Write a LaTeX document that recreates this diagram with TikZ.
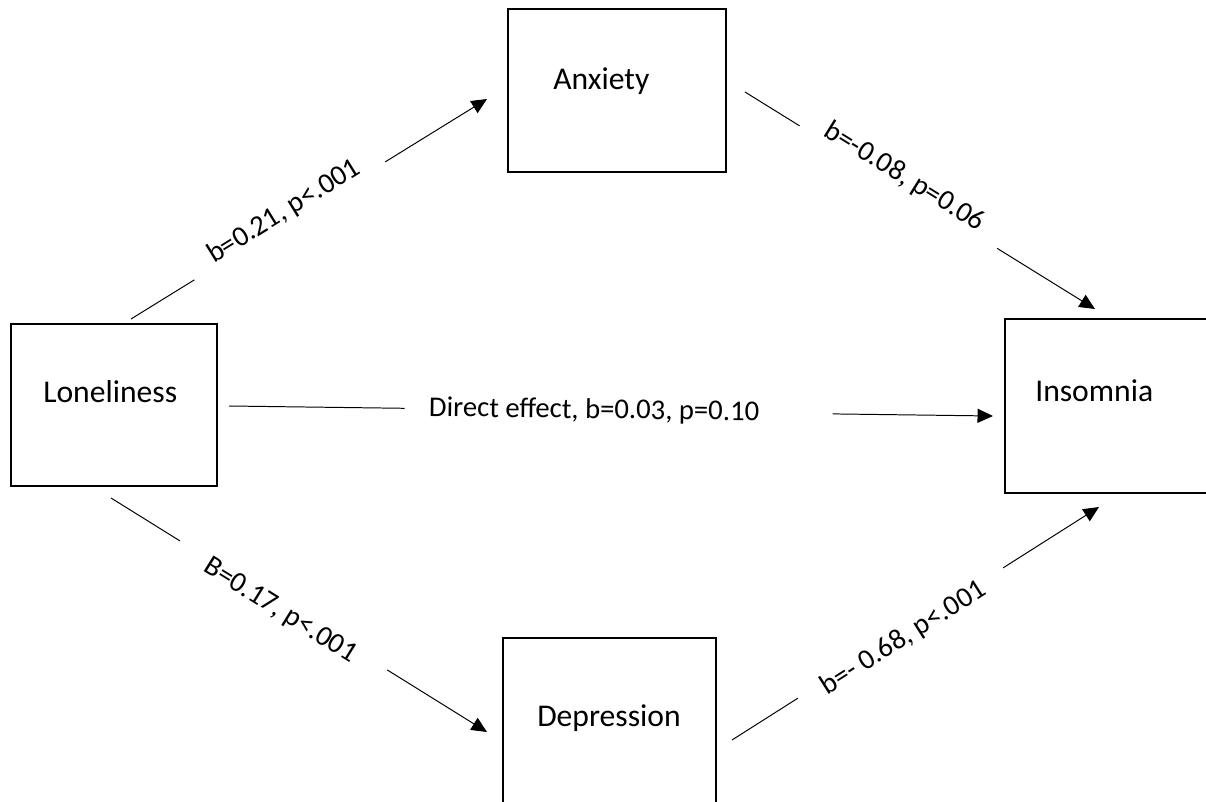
\documentclass[tikz,border=0pt]{standalone}
\usepackage{fontspec}
\setmainfont{Carlito}
\usetikzlibrary{arrows.meta}

\begin{document}
\begin{tikzpicture}[x=0.025cm,y=-0.025cm,
  box/.style={draw,line width=1.6pt,inner sep=0pt},
  boxtext/.style={anchor=base west,inner sep=0pt,font=\fontsize{22.5}{27}\selectfont},
  conn/.style={line width=0.7pt},
  arr/.style={conn,-{Triangle[length=11pt,width=10pt]}},
  elabel/.style={sloped,fill=white,inner sep=0pt,minimum height=1.4cm,font=\fontsize{20.4}{24}\selectfont}]
\useasboundingbox (0,0) rectangle (1206,802);
\clip (0,0) rectangle (1206,802);
\node[box,minimum width=5.15cm,minimum height=4.05cm] (lone) at (114,405) {};
\node[box,minimum width=5.45cm,minimum height=4.075cm] (anx) at (617,90.5) {};
\node[box,minimum width=5.25cm,minimum height=4.35cm] (ins) at (1110,406) {};
\node[box,minimum width=5.325cm,minimum height=4.425cm] (dep) at (609.5,726.5) {};
\node[boxtext] (lonetxt) at (43,402) {Loneliness};
\node[boxtext] (anxtxt) at (553,89) {Anxiety};
\node[boxtext] (instxt) at (1035,401) {Insomnia};
\node[boxtext] (deptxt) at (537,726) {Depression};
\coordinate (c1s) at (131,319); \coordinate (c1e) at (487,99);
\coordinate (c2s) at (745,92); \coordinate (c2e) at (1095,309);
\coordinate (c3s) at (111,498); \coordinate (c3e) at (487,732);
\coordinate (c4s) at (732,740); \coordinate (c4e) at (1099,507);
\coordinate (c5s) at (229,406); \coordinate (c5e) at (993,416);
\draw[arr] (c1s) -- node[elabel,pos=0.446,minimum width=5.6cm,yshift=0.27cm] (l1) {b=0.21, p<.001} (c1e);
\draw[arr] (c2s) -- node[elabel,pos=0.438,minimum width=5.8cm,yshift=0.3cm] (l2) {b=-0.08, p=0.06} (c2e);
\draw[arr] (c3s) -- node[elabel,pos=0.459,minimum width=6.1cm,yshift=-0.17cm] (l3) {B=0.17, p<.001} (c3e);
\draw[arr] (c4s) -- node[elabel,pos=0.459,minimum width=6.07cm,yshift=-0.15cm] (l4) {b=- 0.68, p<.001} (c4e);
\draw[arr] (c5s) -- node[elabel,pos=0.510,minimum width=10.7cm] (l5) {Direct effect, b=0.03, p=0.10\hspace*{1.225cm}} (c5e);
\end{tikzpicture}
\end{document}
